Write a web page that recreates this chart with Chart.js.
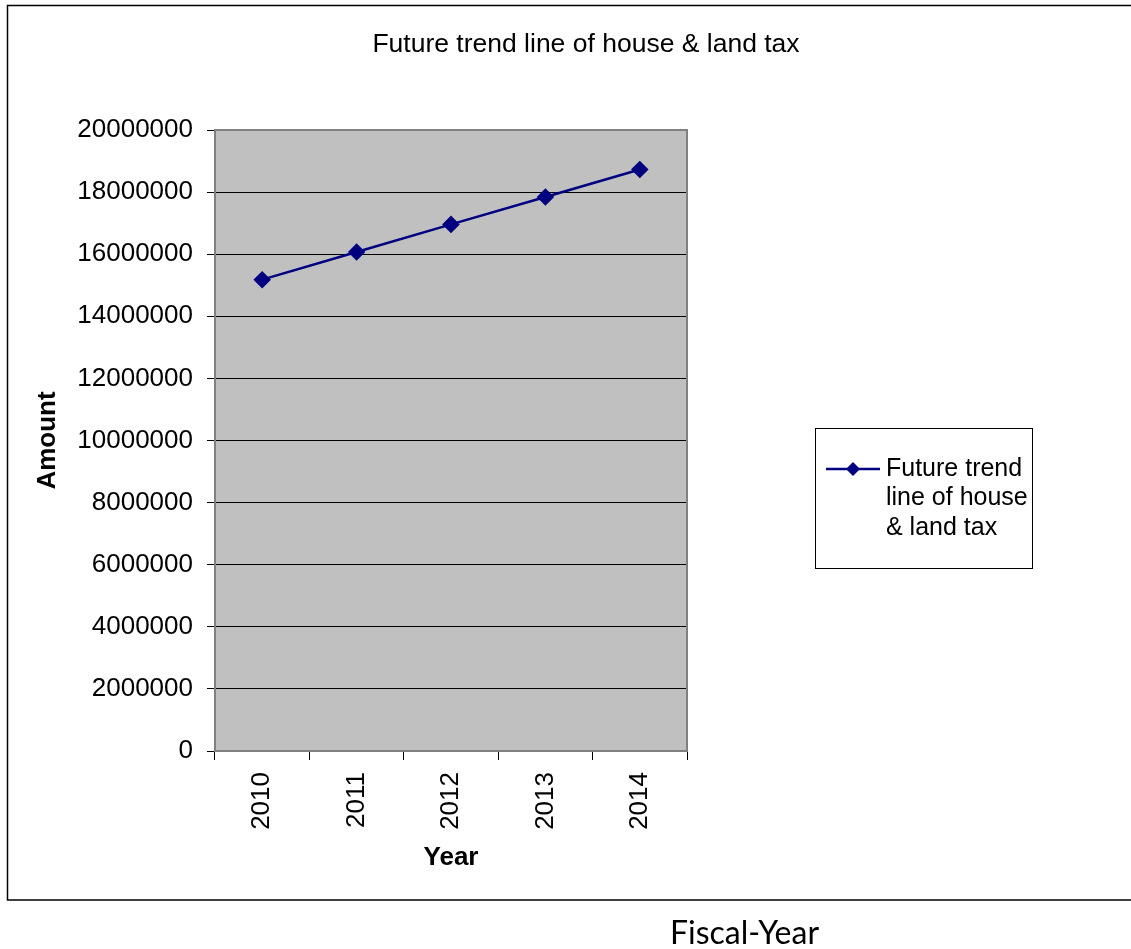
<!DOCTYPE html>
<html>
<head>
<meta charset="utf-8">
<script src="https://cdn.jsdelivr.net/npm/chart.js@4"></script>
<style>
  body { margin: 0; background: #fff; overflow: hidden; }
  #wrap { position: absolute; left: 0; top: 0; width: 1131px; height: 949px; }
  #fiscal { position: absolute; left: 670px; top: 912px; font-family: Lato, "Open Sans", sans-serif; font-size: 32px; color: #000; white-space: nowrap; }
</style>
</head>
<body>
<div id="wrap"><canvas id="taxChart" width="1131" height="949"></canvas></div>
<div id="fiscal">Fiscal-Year</div>
<script>
const years = ['2010', '2011', '2012', '2013', '2014'];
const amounts = [15180000, 16070000, 16960000, 17840000, 18730000];
const seriesLabel = 'Future trend line of house & land tax';
const chartTitle = 'Future trend line of house & land tax';
const yTicks = { min: 0, max: 20000000, step: 2000000 };

const FONT = 'Arial, "Liberation Sans", sans-serif';

// grey plot area, frame, title and the boxed legend on the right
const excelLook = {
    id: 'excelLook',
    beforeDraw(chart) {
        const { ctx, chartArea: a } = chart;
        ctx.save();
        ctx.fillStyle = '#c0c0c0';
        ctx.fillRect(a.left, a.top, a.right - a.left, a.bottom - a.top);
        ctx.restore();
    },
    afterDraw(chart) {
        const { ctx, chartArea: a } = chart;
        ctx.save();
        // plot border
        ctx.strokeStyle = '#808080';
        ctx.lineWidth = 2;
        ctx.strokeRect(a.left, a.top, a.right - a.left, a.bottom - a.top);

        // outer frame (right side runs off the page)
        ctx.strokeStyle = '#000';
        ctx.lineWidth = 1.5;
        ctx.beginPath();
        ctx.moveTo(1140, 5.5);
        ctx.lineTo(7.5, 5.5);
        ctx.lineTo(7.5, 900);
        ctx.lineTo(1140, 900);
        ctx.stroke();

        // title
        ctx.fillStyle = '#000';
        ctx.font = '26.5px ' + FONT;
        ctx.textAlign = 'center';
        ctx.textBaseline = 'middle';
        ctx.fillText(chartTitle, 586, 45);

        // legend
        const ds = chart.data.datasets[0];
        ctx.strokeStyle = '#000';
        ctx.lineWidth = 1;
        ctx.strokeRect(815.5, 428.5, 217, 140);

        ctx.strokeStyle = ds.borderColor;
        ctx.lineWidth = 2.5;
        ctx.beginPath();
        ctx.moveTo(826, 469);
        ctx.lineTo(880, 469);
        ctx.stroke();
        ctx.fillStyle = ds.pointBackgroundColor;
        ctx.beginPath();
        ctx.moveTo(853, 462);
        ctx.lineTo(860, 469);
        ctx.lineTo(853, 476);
        ctx.lineTo(846, 469);
        ctx.closePath();
        ctx.fill();

        ctx.fillStyle = '#000';
        ctx.font = '25px ' + FONT;
        ctx.textAlign = 'left';
        const words = ds.label.split(' ');
        const lines = [];
        let cur = '';
        words.forEach(w => {
            const t = cur ? cur + ' ' + w : w;
            if (cur && ctx.measureText(t).width > 146) {
                lines.push(cur);
                cur = w;
            } else {
                cur = t;
            }
        });
        if (cur) lines.push(cur);
        lines.forEach((l, i) => ctx.fillText(l, 886, 469 + i * 29.5));
        ctx.restore();
    }
};

Chart.defaults.font.family = FONT;
Chart.defaults.font.size = 26;
Chart.defaults.color = '#000';

const ctx = document.getElementById('taxChart').getContext('2d');
const taxChart = new Chart(ctx, {
    type: 'line',
    data: {
        labels: years,
        datasets: [{
            label: seriesLabel,
            data: amounts,
            borderColor: '#000080',
            backgroundColor: '#000080',
            pointBackgroundColor: '#000080',
            pointBorderColor: '#000080',
            pointStyle: 'rectRot',
            pointRadius: 7,
            pointHoverRadius: 7,
            borderWidth: 2.5,
            tension: 0,
            fill: false
        }]
    },
    options: {
        responsive: false,
        animation: false,
        events: [],
        layout: { padding: { top: 130, left: 20, right: 444, bottom: 60 } },
        plugins: {
            legend: { display: false },
            title: { display: false },
            tooltip: { enabled: false }
        },
        scales: {
            x: {
                offset: true,
                afterFit(scale) { scale.height = 138; },
                grid: {
                    offset: true,
                    drawOnChartArea: false,
                    drawTicks: true,
                    tickLength: 9,
                    color: '#000'
                },
                border: { color: '#808080', width: 2 },
                ticks: { minRotation: 90, maxRotation: 90, padding: 12, font: { size: 26 } },
                title: {
                    display: true,
                    text: 'Year',
                    font: { size: 26, weight: 'bold' },
                    padding: { top: 0, bottom: 16 }
                }
            },
            y: {
                min: yTicks.min,
                max: yTicks.max,
                afterFit(scale) { scale.width = 195; },
                grid: {
                    color: '#000',
                    lineWidth: 1,
                    tickLength: 8
                },
                border: { color: '#808080', width: 2 },
                ticks: {
                    stepSize: yTicks.step,
                    padding: 14,
                    font: { size: 26 },
                    callback: v => String(v)
                },
                title: {
                    display: true,
                    text: 'Amount',
                    font: { size: 26, weight: 'bold' },
                    padding: { top: 12, bottom: 0 }
                }
            }
        }
    },
    plugins: [excelLook]
});
</script>
</body>
</html>
